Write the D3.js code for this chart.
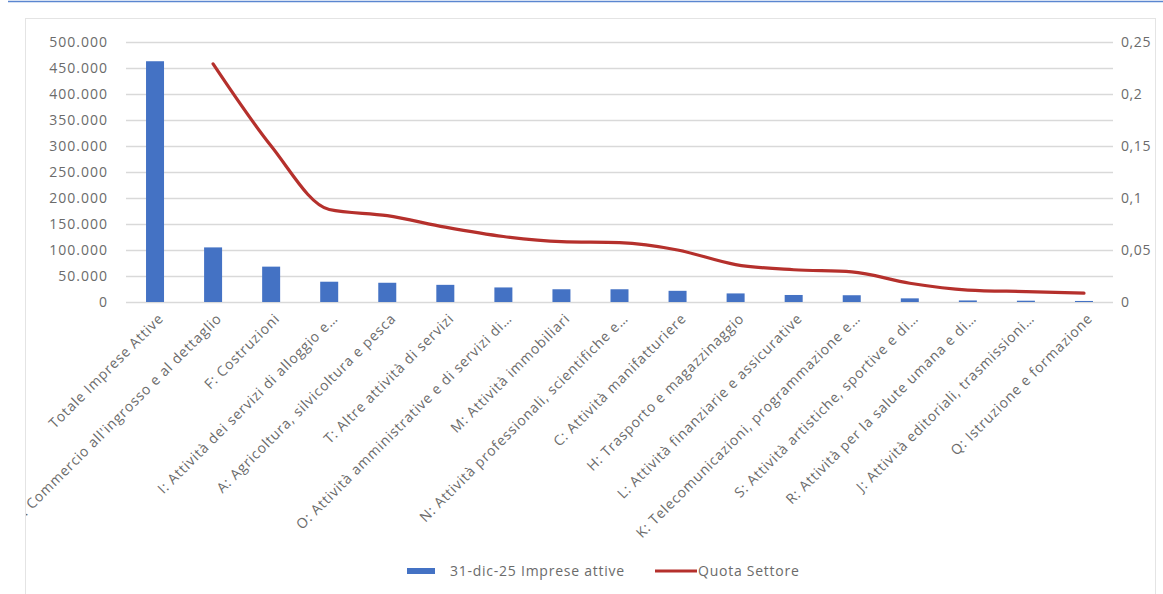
<!DOCTYPE html>
<html><head><meta charset="utf-8">
<script src="https://cdn.jsdelivr.net/npm/d3@7"></script>
<style>
html,body{margin:0;padding:0;background:#fff;}
svg{display:block;}
text{font-family:"Open Sans",sans-serif;fill:#6b6b6b;}
</style></head><body>
<svg id="chart" width="1163" height="594"></svg>
<script>
const categories = [
  "Totale Imprese Attive",
  "G: Commercio all'ingrosso e al dettaglio",
  "F: Costruzioni",
  "I: Attività dei servizi di alloggio e…",
  "A: Agricoltura, silvicoltura e pesca",
  "T: Altre attività di servizi",
  "O: Attività amministrative e di servizi di…",
  "M: Attività immobiliari",
  "N: Attività professionali, scientifiche e…",
  "C: Attività manifatturiere",
  "H: Trasporto e magazzinaggio",
  "L: Attività finanziarie e assicurative",
  "K: Telecomunicazioni, programmazione e…",
  "S: Attività artistiche, sportive e di…",
  "R: Attività per la salute umana e di…",
  "J: Attività editoriali, trasmissioni…",
  "Q: Istruzione e formazione"
];
const impreseAttive = [463000, 105000, 68000, 39000, 37000, 33000, 28000, 24500, 24500, 21500, 16500, 13500, 13000, 7000, 3000, 2500, 2000];
const quotaSettore = [null, 0.229, 0.150, 0.089, 0.083, 0.072, 0.063, 0.058, 0.057, 0.050, 0.036, 0.031, 0.029, 0.018, 0.0115, 0.010, 0.0085];
const leftTicks = [0, 50000, 100000, 150000, 200000, 250000, 300000, 350000, 400000, 450000, 500000];
const rightTicks = [0, 0.05, 0.1, 0.15, 0.2, 0.25];
const seriesNames = ["31-dic-25 Imprese attive", "Quota Settore"];

const svg = d3.select("#chart");
const W = 1163, H = 594;
const plot = {left: 126, right: 1113, top: 42, bottom: 302};

// page decorations
svg.append("line").attr("x1", 8).attr("x2", W).attr("y1", 1.5).attr("y2", 1.5)
  .attr("stroke", "#5b86d0").attr("stroke-width", 1.5);
svg.append("rect").attr("x", 25.5).attr("y", 18.5).attr("width", 1130).attr("height", 590)
  .attr("fill", "#fff").attr("stroke", "#e4e4e4");

const x = d3.scaleBand().domain(categories).range([plot.left, plot.right]).paddingInner(0.69).paddingOuter(0.345);
const yL = d3.scaleLinear().domain([0, 500000]).range([plot.bottom, plot.top]);
const yR = d3.scaleLinear().domain([0, 0.25]).range([plot.bottom, plot.top]);

const loc = d3.formatLocale({decimal: ",", thousands: ".", grouping: [3], currency: ["€", ""]});
const fmtL = loc.format(",d");
const fmtR = v => String(+v.toFixed(2)).replace(".", ",");

// gridlines
svg.append("g").selectAll("line").data(leftTicks).join("line")
  .attr("x1", plot.left).attr("x2", plot.right)
  .attr("y1", d => Math.round(yL(d)) + 0.5).attr("y2", d => Math.round(yL(d)) + 0.5)
  .attr("stroke", "#d9d9d9").attr("stroke-width", 1.3);

// left axis
const axL = svg.append("g").attr("transform", `translate(${plot.left - 18},0)`)
  .call(d3.axisLeft(yL).tickValues(leftTicks).tickFormat(fmtL).tickSize(0).tickPadding(0));
axL.select(".domain").remove();
axL.selectAll("text").attr("font-size", 14).attr("fill", "#6b6b6b").attr("letter-spacing", "1px")
  .style("font-family", '"Open Sans",sans-serif');

// right axis
const axR = svg.append("g").attr("transform", `translate(${plot.right + 8},0)`)
  .call(d3.axisRight(yR).tickValues(rightTicks).tickFormat(fmtR).tickSize(0).tickPadding(0));
axR.select(".domain").remove();
axR.selectAll("text").attr("font-size", 14).attr("fill", "#6b6b6b").attr("letter-spacing", "0.6px")
  .style("font-family", '"Open Sans",sans-serif');

// bars
svg.append("g").selectAll("rect").data(categories).join("rect")
  .attr("x", d => x(d)).attr("width", x.bandwidth())
  .attr("y", (d, i) => yL(impreseAttive[i]))
  .attr("height", (d, i) => yL(0) - yL(impreseAttive[i]))
  .attr("fill", "#4472c4");

// line
const lineData = categories.map((c, i) => ({c, v: quotaSettore[i]})).filter(d => d.v != null);
svg.append("path").datum(lineData)
  .attr("d", d3.line().x(d => x(d.c) + x.bandwidth() / 2).y(d => yR(d.v)).curve(d3.curveMonotoneX))
  .attr("fill", "none").attr("stroke", "#b5302c").attr("stroke-width", 3.2)
  .attr("stroke-linejoin", "round").attr("stroke-linecap", "round");

// x labels (clipped to chart area)
svg.append("clipPath").attr("id", "clipArea").append("rect")
  .attr("x", 26).attr("y", 19).attr("width", 1130).attr("height", 580);
const xl = svg.append("g").attr("clip-path", "url(#clipArea)");
xl.selectAll("text").data(categories).join("text")
  .attr("transform", d => `translate(${x(d) + x.bandwidth() / 2 + 6},${plot.bottom + 14}) rotate(-45)`)
  .attr("text-anchor", "end").attr("dy", "0.35em")
  .attr("font-size", 14).attr("letter-spacing", "0.8px").attr("fill", "#6b6b6b")
  .text(d => d);

// legend
const lg = svg.append("g");
lg.append("rect").attr("x", 407).attr("y", 568).attr("width", 28).attr("height", 6).attr("fill", "#4472c4");
lg.append("text").attr("x", 450).attr("y", 571).attr("dy", "0.35em").attr("font-size", 14)
  .attr("letter-spacing", "0.75px").attr("fill", "#5f5f5f").text(seriesNames[0]);
lg.append("line").attr("x1", 655).attr("x2", 697).attr("y1", 571).attr("y2", 571)
  .attr("stroke", "#b5302c").attr("stroke-width", 3);
lg.append("text").attr("x", 698).attr("y", 571).attr("dy", "0.35em").attr("font-size", 14)
  .attr("letter-spacing", "0.75px").attr("fill", "#5f5f5f").text(seriesNames[1]);
</script>
</body></html>
